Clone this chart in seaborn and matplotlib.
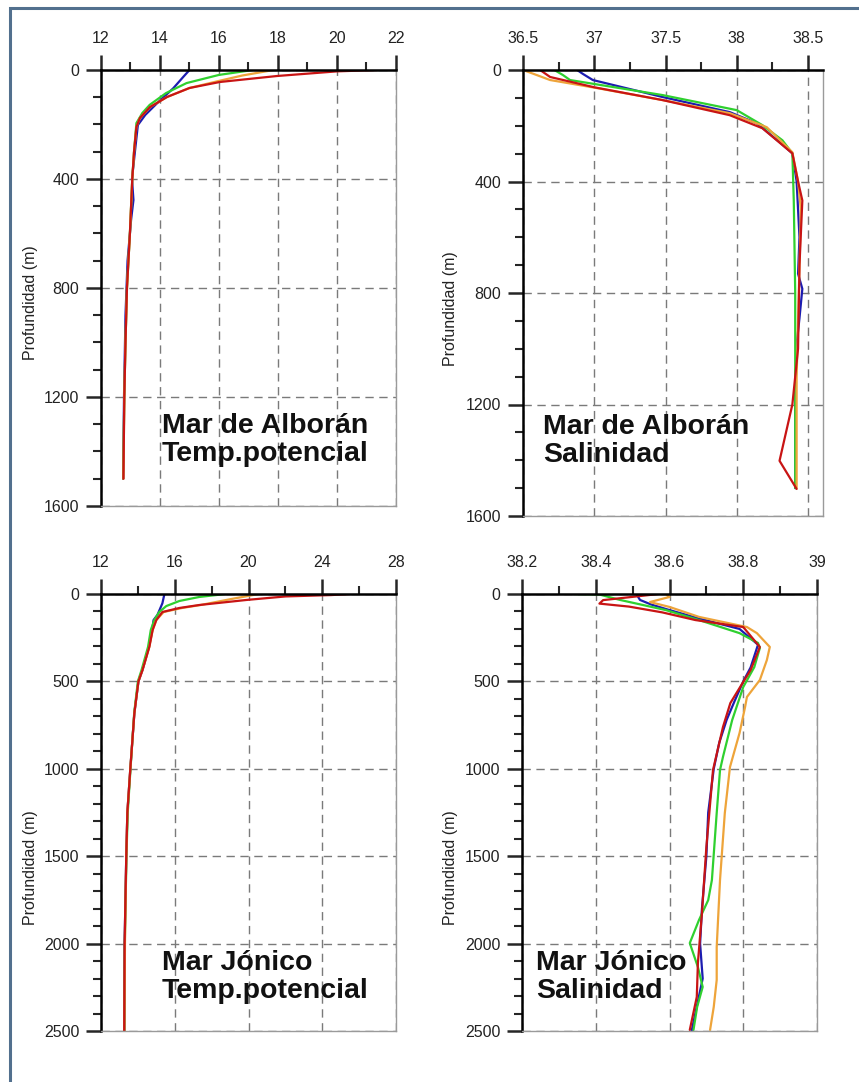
import numpy as np
import pandas as pd
import matplotlib.pyplot as plt
import seaborn as sns
from matplotlib.ticker import MultipleLocator, FormatStrFormatter
from matplotlib.patches import Rectangle

sns.set_theme(style="white")
plt.rcParams['font.family'] = ['Liberation Sans', 'DejaVu Sans']

series_order = ['azul', 'verde', 'naranja', 'rojo']
series_colors = {'azul': '#1c1cb0', 'verde': '#2fd02f', 'naranja': '#eea43a', 'rojo': '#c81414'}

# Mar de Alboran - temperatura potencial
alb_t_depth_azul = [0, 24, 67, 122, 165, 202, 300, 400, 477, 550, 700, 900, 1200, 1500]
alb_t_azul = [15.0, 14.8, 14.45, 13.9, 13.5, 13.25, 13.15, 13.05, 13.1, 13.02, 12.9, 12.83, 12.78, 12.75]
alb_t_depth_verde = [0, 18, 48, 85, 128, 158, 195, 300, 400, 600, 800, 1000, 1200, 1500]
alb_t_verde = [17.15, 16.0, 14.9, 14.2, 13.65, 13.4, 13.2, 13.12, 13.06, 12.98, 12.88, 12.83, 12.79, 12.75]
alb_t_depth_naranja = [0, 20, 40, 66, 99, 136, 176, 209, 300, 400, 600, 800, 1000, 1200, 1500]
alb_t_naranja = [17.85, 16.8, 16.0, 15.0, 14.24, 13.66, 13.32, 13.2, 13.12, 13.06, 12.98, 12.88, 12.83, 12.79, 12.76]
alb_t_depth_rojo = [0, 5, 22, 44, 66, 99, 136, 176, 209, 300, 400, 600, 800, 1000, 1200, 1500]
alb_t_rojo = [21.35, 20.0, 17.97, 16.03, 15.0, 14.24, 13.66, 13.32, 13.2, 13.12, 13.06, 12.98, 12.88, 12.83, 12.79, 12.76]

# Mar de Alboran - salinidad
alb_s_depth_azul = [0, 14, 36, 97, 151, 191, 259, 299, 400, 600, 731, 785, 890, 984, 1200, 1500]
alb_s_azul = [36.88, 36.92, 36.99, 37.48, 37.95, 38.14, 38.30, 38.39, 38.42, 38.44, 38.43, 38.46, 38.44, 38.42, 38.41, 38.41]
alb_s_depth_verde = [0, 18, 36, 90, 144, 198, 252, 299, 470, 800, 1200, 1500]
alb_s_verde = [36.72, 36.78, 36.83, 37.48, 38.0, 38.18, 38.32, 38.39, 38.40, 38.41, 38.41, 38.41]
alb_s_depth_naranja = [0, 15, 36, 65, 108, 155, 205, 295, 400, 500, 700, 900, 1100, 1300, 1500]
alb_s_naranja = [36.5, 36.58, 36.69, 37.02, 37.48, 37.95, 38.21, 38.39, 38.43, 38.45, 38.44, 38.43, 38.42, 38.42, 38.42]
alb_s_depth_rojo = [0, 25, 62, 108, 162, 209, 299, 400, 468, 700, 1000, 1200, 1402, 1503]
alb_s_rojo = [36.62, 36.69, 37.0, 37.48, 37.95, 38.18, 38.39, 38.43, 38.46, 38.44, 38.43, 38.39, 38.30, 38.42]

# Mar Jonico - temperatura potencial
jon_t_depth_azul = [0, 53, 120, 149, 206, 303, 435, 500, 681, 1000, 1250, 1500, 2000, 2500]
jon_t_azul = [15.44, 15.33, 15.06, 14.85, 14.78, 14.6, 14.25, 14.03, 13.81, 13.59, 13.43, 13.37, 13.28, 13.26]
jon_t_depth_verde = [0, 17, 40, 69, 103, 149, 206, 303, 435, 500, 681, 1000, 1250, 1500, 2000, 2500]
jon_t_verde = [18.75, 17.33, 16.25, 15.54, 15.16, 14.89, 14.7, 14.55, 14.2, 14.0, 13.8, 13.6, 13.45, 13.38, 13.29, 13.27]
jon_t_depth_naranja = [0, 30, 63, 80, 103, 149, 206, 303, 435, 500, 681, 1000, 1250, 1500, 2000, 2500]
jon_t_naranja = [20.55, 19.0, 17.4, 16.4, 15.4, 15.0, 14.8, 14.62, 14.25, 14.03, 13.81, 13.59, 13.43, 13.37, 13.3, 13.27]
jon_t_depth_rojo = [0, 6, 14, 34, 63, 80, 103, 149, 206, 303, 435, 500, 681, 1000, 1250, 1500, 2000, 2500]
jon_t_rojo = [25.5, 24.5, 22.0, 19.9, 17.33, 16.25, 15.33, 15.0, 14.8, 14.62, 14.25, 14.03, 13.81, 13.59, 13.43, 13.37, 13.28, 13.26]

# Mar Jonico - salinidad
jon_s_depth_azul = [0, 34, 60, 92, 140, 200, 290, 420, 500, 620, 720, 850, 1000, 1250, 1500, 1800, 2000, 2200, 2300, 2500]
jon_s_azul = [38.51, 38.52, 38.55, 38.60, 38.68, 38.79, 38.84, 38.82, 38.80, 38.775, 38.755, 38.735, 38.72, 38.705, 38.70, 38.688, 38.683, 38.69, 38.68, 38.66]
jon_s_depth_verde = [0, 3, 34, 92, 149, 224, 280, 309, 418, 532, 721, 932, 1007, 1253, 1636, 1751, 1865, 1997, 2134, 2248, 2362, 2494]
jon_s_verde = [38.34, 38.41, 38.466, 38.59, 38.68, 38.79, 38.84, 38.845, 38.83, 38.80, 38.77, 38.745, 38.737, 38.728, 38.715, 38.705, 38.68, 38.655, 38.677, 38.69, 38.675, 38.665]
jon_s_depth_naranja = [0, 17, 46, 74, 131, 189, 224, 303, 378, 492, 589, 646, 795, 990, 1253, 1636, 2020, 2208, 2362, 2494]
jon_s_naranja = [38.59, 38.60, 38.547, 38.60, 38.68, 38.81, 38.837, 38.872, 38.864, 38.845, 38.81, 38.805, 38.79, 38.764, 38.75, 38.737, 38.728, 38.728, 38.72, 38.71]
jon_s_depth_rojo = [0, 35, 55, 72, 105, 149, 189, 303, 435, 503, 624, 761, 1007, 1448, 1825, 2111, 2305, 2494]
jon_s_rojo = [38.57, 38.42, 38.41, 38.49, 38.58, 38.67, 38.80, 38.845, 38.82, 38.80, 38.765, 38.745, 38.718, 38.70, 38.688, 38.677, 38.674, 38.655]


def profile_frame(depths, values):
    parts = []
    for name, d, v in zip(series_order, depths, values):
        parts.append(pd.DataFrame({'profundidad': d, 'valor': v, 'serie': name}))
    return pd.concat(parts, ignore_index=True)


panels = [
    dict(df=profile_frame([alb_t_depth_azul, alb_t_depth_verde, alb_t_depth_naranja, alb_t_depth_rojo],
                          [alb_t_azul, alb_t_verde, alb_t_naranja, alb_t_rojo]),
         rect=[101 / 859, 1 - 506 / 1082, 295 / 859, 436 / 1082],
         xlim=(12, 22), xmaj=2, xmin=1, ylim=(0, 1600), ymaj=400, ymin=100,
         text='Mar de Alborán\nTemp.potencial', tx=0.207, ty=0.152, lx=-0.215, ly=0.466),
    dict(df=profile_frame([alb_s_depth_azul, alb_s_depth_verde, alb_s_depth_naranja, alb_s_depth_rojo],
                          [alb_s_azul, alb_s_verde, alb_s_naranja, alb_s_rojo]),
         rect=[523 / 859, 1 - 516 / 1082, 300 / 859, 446 / 1082],
         xlim=(36.5, 38.605), xmaj=0.5, xmin=0.25, ylim=(0, 1600), ymaj=400, ymin=100,
         text='Mar de Alborán\nSalinidad', tx=0.067, ty=0.168, lx=-0.218, ly=0.466),
    dict(df=profile_frame([jon_t_depth_azul, jon_t_depth_verde, jon_t_depth_naranja, jon_t_depth_rojo],
                          [jon_t_azul, jon_t_verde, jon_t_naranja, jon_t_rojo]),
         rect=[101 / 859, 1 - 1031 / 1082, 295 / 859, 437 / 1082],
         xlim=(12, 28), xmaj=4, xmin=2, ylim=(0, 2500), ymaj=500, ymin=100,
         text='Mar Jónico\nTemp.potencial', tx=0.207, ty=0.124, lx=-0.215, ly=0.373),
    dict(df=profile_frame([jon_s_depth_azul, jon_s_depth_verde, jon_s_depth_naranja, jon_s_depth_rojo],
                          [jon_s_azul, jon_s_verde, jon_s_naranja, jon_s_rojo]),
         rect=[522 / 859, 1 - 1031 / 1082, 295 / 859, 437 / 1082],
         xlim=(38.2, 39.0), xmaj=0.2, xmin=0.1, ylim=(0, 2500), ymaj=500, ymin=100,
         text='Mar Jónico\nSalinidad', tx=0.047, ty=0.124, lx=-0.218, ly=0.373),
]

fig = plt.figure(figsize=(8.59, 10.82), dpi=100)
fig.patch.set_facecolor('white')

for p in panels:
    ax = fig.add_axes(p['rect'])
    sns.lineplot(data=p['df'], x='valor', y='profundidad', hue='serie', hue_order=series_order,
                 palette=series_colors, sort=False, estimator=None, orient='y',
                 legend=False, linewidth=1.6, ax=ax)
    ax.set_xlim(*p['xlim'])
    ax.set_ylim(p['ylim'][1], p['ylim'][0])

    ax.xaxis.tick_top()
    ax.xaxis.set_major_locator(MultipleLocator(p['xmaj']))
    ax.xaxis.set_minor_locator(MultipleLocator(p['xmin']))
    ax.xaxis.set_major_formatter(FormatStrFormatter('%g'))
    ax.yaxis.set_major_locator(MultipleLocator(p['ymaj']))
    ax.yaxis.set_minor_locator(MultipleLocator(p['ymin']))
    ax.yaxis.set_major_formatter(FormatStrFormatter('%d'))

    ax.tick_params(axis='x', which='major', direction='out', length=10.5, width=1.8,
                   top=True, bottom=False, labeltop=True, labelbottom=False,
                   pad=7, labelsize=11.5, labelcolor='#222222')
    ax.tick_params(axis='x', which='minor', direction='out', length=5.5, width=1.5,
                   top=True, bottom=False)
    ax.tick_params(axis='y', which='major', direction='out', length=10.5, width=1.8,
                   left=True, right=False, pad=5, labelsize=11.5, labelcolor='#222222')
    ax.tick_params(axis='y', which='minor', direction='out', length=5.5, width=1.5,
                   left=True, right=False)

    ax.grid(True, which='major', color='#7a7a7a', linewidth=1.0, linestyle=(0, (6, 4)))
    ax.set_axisbelow(True)

    for side in ['top', 'left']:
        ax.spines[side].set_color('black')
        ax.spines[side].set_linewidth(1.8)
    for side in ['right', 'bottom']:
        ax.spines[side].set_color('#9a9a9a')
        ax.spines[side].set_linewidth(1.0)

    ax.set_xlabel('')
    ax.set_ylabel('Profundidad (m)', fontsize=11.5, color='#222222')
    ax.yaxis.set_label_coords(p['lx'], p['ly'])

    ax.text(p['tx'], p['ty'], p['text'], transform=ax.transAxes, ha='left', va='center',
            fontsize=20.5, fontweight='bold', color='#111111', linespacing=1.12)

# marco exterior
fig.add_artist(Rectangle((10 / 859, -0.05), 1.2, 1 - 8 / 1082 + 0.05, transform=fig.transFigure,
                         fill=False, edgecolor='#52708e', linewidth=2.2))

fig.savefig('out.png', dpi=100)
